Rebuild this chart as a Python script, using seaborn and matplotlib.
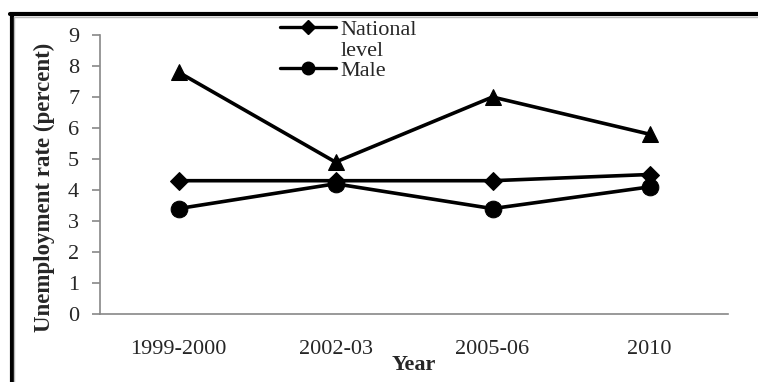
import matplotlib
matplotlib.use("Agg")
import matplotlib.pyplot as plt
import seaborn as sns
import pandas as pd
import numpy as np
from matplotlib.lines import Line2D

years = ["1999-2000", "2002-03", "2005-06", "2010"]
national = [4.3, 4.3, 4.3, 4.5]
male = [3.4, 4.2, 3.4, 4.1]
female = [7.8, 4.9, 7.0, 5.8]
y_ticks = [0, 1, 2, 3, 4, 5, 6, 7, 8, 9]

sns.set_theme(style="white")
plt.rcParams["font.family"] = ["Liberation Serif", "DejaVu Serif"]

W, H = 758, 382
fig = plt.figure(figsize=(W / 100, H / 100), dpi=100)
ax = fig.add_axes([100 / W, 1 - 314 / H, (728 - 100) / W, (314 - 35) / H])

df = pd.DataFrame({
    "pos": list(range(len(years))) * 3,
    "rate": national + male + female,
    "series": ["National level"] * 4 + ["Male"] * 4 + ["Female"] * 4,
})

markers = {"National level": "D", "Male": "o", "Female": "^"}
sizes = {"National level": 9, "Male": 12, "Female": 12}
for name in ["Female", "National level", "Male"]:
    sub = df[df["series"] == name]
    sns.lineplot(data=sub, x="pos", y="rate", ax=ax, color="black",
                 linewidth=2.6, marker=markers[name], markersize=sizes[name],
                 markeredgecolor="black", markerfacecolor="black", legend=False)

ax.set_xlim(-0.5, len(years) - 0.5)
ax.set_ylim(0, 9)
ax.set_yticks(y_ticks)
ax.set_yticklabels([str(v) for v in y_ticks], fontsize=16)
ax.set_xticks(np.arange(-0.5, len(years), 1.0))
ax.set_xticklabels([])
ax.set_xticks(range(len(years)), minor=True)
ax.set_xticklabels(years, minor=True, fontsize=16)
ax.tick_params(axis="x", which="minor", length=0, pad=19)
ax.tick_params(axis="x", which="major", length=6, direction="out", color="#888888", width=1.2)
ax.tick_params(axis="y", length=6, direction="out", color="#888888", width=1.2, pad=9, left=True)
for s in ["top", "right"]:
    ax.spines[s].set_visible(False)
for s in ["left", "bottom"]:
    ax.spines[s].set_color("#888888")
    ax.spines[s].set_linewidth(1.2)

ax.set_xlabel("Year", fontsize=16, fontweight="bold", labelpad=-3)
ax.set_ylabel("Unemployment rate (percent)", fontsize=16.5, fontweight="bold")
ax.yaxis.set_label_coords(-0.072, 0.455)

handles = [
    Line2D([], [], color="black", lw=2.4, marker="D", markersize=7),
    Line2D([], [], color="none", lw=0),
    Line2D([], [], color="black", lw=2.4, marker="o", markersize=9),
]
leg = fig.legend(handles, ["National", "level", "Male"], loc="upper left",
                 bbox_to_anchor=(276 / W, 1 - 15 / H), frameon=False,
                 prop={"family": "Liberation Serif", "size": 16},
                 handlelength=2.5, handletextpad=0.2, labelspacing=0.0,
                 borderaxespad=0, borderpad=0.2)

# outer frame (top and left thick black borders)
fig.add_artist(Line2D([10 / W, 1], [1 - 14 / H, 1 - 14 / H], color="black", lw=3,
                      transform=fig.transFigure))
fig.add_artist(Line2D([11.5 / W, 11.5 / W], [0, 1 - 14 / H], color="black", lw=3,
                      transform=fig.transFigure))
fig.add_artist(Line2D([14 / W, 1], [1 - 16.5 / H, 1 - 16.5 / H], color="#bbbbbb", lw=1,
                      transform=fig.transFigure))
fig.add_artist(Line2D([14 / W, 14 / W], [0, 1 - 16.5 / H], color="#bbbbbb", lw=1,
                      transform=fig.transFigure))

fig.savefig("out.png", dpi=100)
